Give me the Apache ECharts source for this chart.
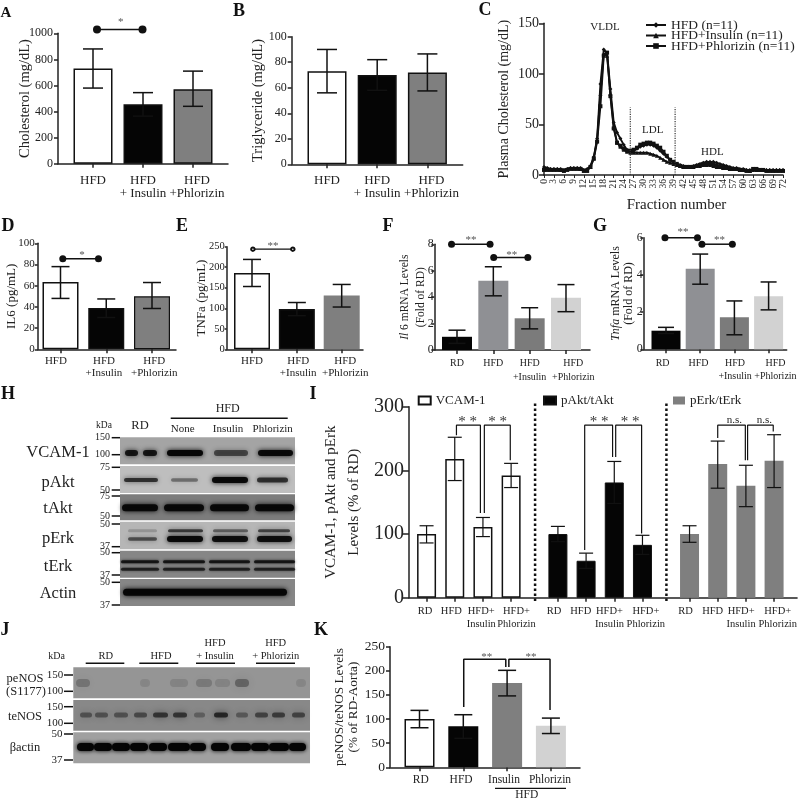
<!DOCTYPE html>
<html><head><meta charset="utf-8">
<style>html,body{margin:0;padding:0;background:#fff}#main{width:800px;height:802px;filter:blur(0.45px)}</style>
<script src="https://cdn.jsdelivr.net/npm/echarts@6/dist/echarts.min.js"></script>
</head><body><div id="main"></div>
<script>
// ---------- DATA ----------
const groups3 = ['HFD', 'HFD\n+ Insulin', 'HFD\n+Phlorizin'];
const groups3b = ['HFD', 'HFD\n+Insulin', 'HFD\n+Phlorizin'];
const groups4 = ['RD', 'HFD', 'HFD\n+Insulin', 'HFD\n+Phlorizin'];
const kGroups = ['RD', 'HFD', 'Insulin', 'Phlorizin'];
const iLabels = ['RD', 'HFD', 'HFD+\nInsulin', 'HFD+\nPhlorizin'];

const aMean = [730, 455, 570], aHigh = [880, 545, 710], aLow = [580, 365, 440];
const bMean = [73, 70, 72], bHigh = [90, 82, 86.5], bLow = [56, 58, 57.5];
const dMean = [63.5, 39, 50], dHigh = [78, 47.5, 63], dLow = [48, 30, 38.5];
const eMean = [186, 98, 131], eHigh = [219, 114, 158], eLow = [153, 82, 103];
const fMean = [1.0, 5.25, 2.4, 3.95], fHigh = [1.5, 6.3, 3.2, 4.95], fLow = [0.5, 4.1, 1.6, 2.9];
const gMean = [1.0, 4.33, 1.72, 2.85], gHigh = [1.18, 5.12, 2.6, 3.62], gLow = [0.85, 3.5, 0.78, 2.12];
const kMean = [100, 85, 175, 86], kHigh = [118, 109, 201, 102], kLow = [82, 60, 148, 70];

const iVcamMean = [100, 218, 111, 192], iVcamHigh = [113, 252, 126, 211], iVcamLow = [86, 184, 96, 173];
const iAktMean = [100, 58, 181, 83], iAktHigh = [112, 70, 214, 98], iAktLow = [88, 46, 148, 68];
const iErkMean = [100, 210, 176, 215], iErkHigh = [113, 246, 208, 256], iErkLow = [87, 172, 143, 173];

const fractions = [0,1,2,3,4,5,6,7,8,9,10,11,12,13,14,15,16,17,18,19,20,21,22,23,24,25,26,27,28,29,30,31,32,33,34,35,36,37,38,39,40,41,42,43,44,45,46,47,48,49,50,51,52,53,54,55,56,57,58,59,60,61,62,63,64,65,66,67,68,69,70,71,72];
const cHfd = [8,7,6,6,6,6,5,6,7,7,7,7,5,6,9,18,36,90,124,121,85,52,42,36,30,25,23,24,26,28,29,30,30,29,27,24,21,18,15,13,11,10,9,8,8,9,10,11,12,13,13,13,12,11,10,9,8,7,7,6,6,5,5,5,5,5,5,5,5,5,5,5,5];
const cInsulin = [6,6,6,6,6,5,5,6,7,7,7,6,5,5,8,17,35,80,120,118,80,48,32,28,25,23,22,22,22,22,22,22,21,20,19,17,15,13,12,11,10,9,8,8,8,8,9,9,10,10,10,9,8,8,7,7,6,6,6,5,5,5,4,5,5,5,5,5,5,5,5,5,5];
const cPhlorizin = [5,5,5,5,5,5,4,5,6,6,6,6,4,4,8,16,33,68,118,121,78,46,32,29,26,24,24,25,27,30,31,32,32,31,29,27,23,19,15,13,11,9,8,8,8,8,9,10,11,11,11,10,9,8,7,7,6,6,6,5,5,4,4,6,6,5,5,4,4,4,4,4,4];

// ---------- STYLE / LAYOUT ----------
const SERIF = '"Liberation Serif","Times New Roman",serif';
const INK = '#222';
const option = {backgroundColor:'#fff', animation:false, grid:[], xAxis:[], yAxis:[], series:[], legend:[], graphic:[]};
const gfx = [];

function errorSeries(ax, xs, lows, highs, capW, lw){
  option.series.push({type:'custom', xAxisIndex:ax, yAxisIndex:ax, silent:true, clip:false, z:4,
    data: xs.map((x,i)=>[x,lows[i],highs[i]]), encode:{x:0,y:[1,2]},
    renderItem:(p,api)=>{
      const t=api.coord([api.value(0),api.value(2)]), b=api.coord([api.value(0),api.value(1)]);
      const st={stroke:'#111',lineWidth:lw,fill:null};
      return {type:'group',children:[
        {type:'line',shape:{x1:t[0],y1:t[1],x2:b[0],y2:b[1]},style:st},
        {type:'line',shape:{x1:t[0]-capW/2,y1:t[1],x2:t[0]+capW/2,y2:t[1]},style:st},
        {type:'line',shape:{x1:b[0]-capW/2,y1:b[1],x2:b[0]+capW/2,y2:b[1]},style:st}
      ]};
    }});
}
function link(ax, xs, ys, o){
  o=o||{};
  option.series.push({type:'line', xAxisIndex:ax, yAxisIndex:ax, silent:true, clip:false, z:5,
    data: xs.map((x,i)=>[x,ys[i]]), symbol:o.symbol||'none', symbolSize:o.size||8, showSymbol:!!o.symbol,
    lineStyle:{color:o.color||'#111',width:o.width||1.5,type:o.type||'solid'}, itemStyle:{color:o.color||'#111'}});
}
function addAxes(c){
  const ax=option.grid.length;
  option.grid.push({left:c.left,top:c.top,width:c.right-c.left,height:c.bottom-c.top,containLabel:false});
  const tick=c.tickPos;
  option.xAxis.push({gridIndex:ax,type:'value',min:(c.left-c.c0)/c.step,max:(c.right-c.c0)/c.step,splitLine:{show:false},
    axisLine:{onZero:false,lineStyle:{color:INK,width:1.5}},
    axisTick:{show:true,customValues:tick,length:c.tickLen||4,lineStyle:{color:INK,width:1.5}},
    axisLabel:{customValues:c.labelPos,formatter:v=>c.labels[c.labelPos.indexOf(v)],
      fontFamily:SERIF,fontSize:c.xSize||13,lineHeight:c.xLine||13,color:INK,margin:c.xMargin||10,hideOverlap:false}});
  option.yAxis.push({gridIndex:ax,type:'value',min:0,max:c.yMax,interval:c.yInt,splitLine:{show:false},
    axisLine:{show:true,onZero:false,lineStyle:{color:INK,width:1.5}},
    axisTick:{show:true,length:c.yTick||4,lineStyle:{color:INK,width:1.5}},
    axisLabel:{fontFamily:SERIF,fontSize:c.ySize||12,color:INK,margin:c.yMargin==null?5:c.yMargin,showMaxLabel:true,showMinLabel:true,formatter:v=>String(v)},
    name:c.yName,nameLocation:'middle',nameGap:c.nameGap,nameMoveOverlap:false,
    nameTextStyle:Object.assign({fontFamily:SERIF,fontSize:c.nameSize||14,color:INK,lineHeight:c.nameLine||15,
      rich:{i:{fontFamily:SERIF,fontStyle:'italic',fontSize:c.nameSize||12,color:INK,lineHeight:c.nameLine||15},
            n:{fontFamily:SERIF,fontSize:c.nameSize||12,color:INK,lineHeight:c.nameLine||15}}},c.nameExtra||{})});
  return ax;
}
function barPanel(c){
  const ax=addAxes(c);
  const xs=c.mean.map((_,i)=>i);
  option.series.push({type:'bar',xAxisIndex:ax,yAxisIndex:ax,silent:true,barWidth:c.barW,z:2,
    data:c.mean.map((v,i)=>({value:[i,v],itemStyle:{color:c.colors[i],borderColor:'#111',borderWidth:c.border[i]}}))});
  errorSeries(ax,xs,c.low,c.high,c.capW,1.5);
  return ax;
}

// ---------- PANELS ----------
const axA=barPanel({left:58,right:228,top:33.3,bottom:163.7,c0:93,step:50,yMax:1000,yInt:200,mean:aMean,high:aHigh,low:aLow,
  colors:['#fff','#050505','#7f7f7f'],border:[1.5,1.5,1.5],barW:39,capW:20,tickPos:[0,1,2],labelPos:[0,1,2.08],labels:groups3,
  yName:'Cholesterol (mg/dL)',nameGap:25,nameSize:14.5});
link(axA,[0.08,0.99],[1030,1030],{symbol:'circle',size:8});

barPanel({left:291.7,right:462.7,top:36.7,bottom:164.3,c0:327,step:50.2,yMax:100,yInt:20,mean:bMean,high:bHigh,low:bLow,
  colors:['#fff','#050505','#7f7f7f'],border:[1.5,1.5,1.5],barW:39,capW:20,tickPos:[0,1,2],labelPos:[0,1,2.08],labels:groups3,
  yName:'Triglyceride (mg/dL)',nameGap:26,nameSize:14.5});

// Panel C
const axC=option.grid.length;
option.grid.push({left:544,top:23.3,width:239,height:151.7});
option.xAxis.push({gridIndex:axC,type:'value',min:0,max:72,interval:3,splitLine:{show:false},
  axisLine:{onZero:false,lineStyle:{color:INK,width:1.5}},axisTick:{length:3,lineStyle:{color:INK,width:1}},
  axisLabel:{rotate:90,fontFamily:SERIF,fontSize:9.5,color:INK,margin:4,showMaxLabel:true,showMinLabel:true},
  name:'Fraction number',nameLocation:'middle',nameGap:23,
  nameTextStyle:{fontFamily:SERIF,fontSize:15,color:INK,padding:[0,0,0,26]}});
option.yAxis.push({gridIndex:axC,type:'value',min:0,max:150,interval:50,splitLine:{show:false},
  axisLine:{show:true,onZero:false,lineStyle:{color:INK,width:1.5}},axisTick:{show:true,length:5,lineStyle:{color:INK,width:1.5}},
  axisLabel:{fontFamily:SERIF,fontSize:14,color:INK,margin:5,showMaxLabel:true},
  name:'Plasma Cholesterol (mg/dL)',nameLocation:'middle',nameGap:33,nameMoveOverlap:false,
  nameTextStyle:{fontFamily:SERIF,fontSize:14,color:INK}});
[['HFD (n=11)',cHfd,'diamond',4],['HFD+Insulin (n=11)',cInsulin,'triangle',4],['HFD+Phlorizin (n=11)',cPhlorizin,'rect',4]].forEach(s=>{
  option.series.push({name:s[0],type:'line',xAxisIndex:axC,yAxisIndex:axC,silent:true,z:3,showAllSymbol:true,
    data:fractions.map((f,i)=>[f,s[1][i]]),symbol:s[2],symbolSize:s[3],
    lineStyle:{color:'#111',width:1.9},itemStyle:{color:'#111'}});
});
link(axC,[26,26],[0,67],{type:'dotted',width:1.2,color:'#333'});
link(axC,[39.5,39.5],[0,67],{type:'dotted',width:1.2,color:'#333'});
option.legend.push({orient:'vertical',left:645,top:18,padding:0,itemWidth:20,itemHeight:7,itemGap:-3.5,
  data:['HFD (n=11)','HFD+Insulin (n=11)','HFD+Phlorizin (n=11)'],selectedMode:false,
  textStyle:{fontFamily:SERIF,fontSize:13.5,color:INK}});

const axD=barPanel({left:37.7,right:176,top:243.3,bottom:349.3,c0:60.5,step:45.75,yMax:100,yInt:20,mean:dMean,high:dHigh,low:dLow,
  colors:['#fff','#050505','#7f7f7f'],border:[1.5,1.5,1.2],barW:36,capW:18,tickPos:[0,1,2],labelPos:[-0.1,0.95,2.05],labels:groups3b,
  xSize:11,xLine:12,ySize:11,yTick:3,yMargin:3,xMargin:6,yName:'IL6 (pg/mL)',nameGap:19,nameSize:13});
link(axD,[0.05,0.83],[85.5,85.5],{symbol:'circle',size:7});

const axE=barPanel({left:226.7,right:363,top:246.7,bottom:349.3,c0:252,step:44.85,yMax:250,yInt:50,mean:eMean,high:eHigh,low:eLow,
  colors:['#fff','#050505','#7f7f7f'],border:[1.5,1.5,0],barW:36,capW:18,tickPos:[0,1,2],labelPos:[0,1.03,2.08],labels:groups3b,
  xSize:11,xLine:12,ySize:10.5,yTick:2,yMargin:2,xMargin:6,yName:'TNFa (pg/mL)',nameGap:18,nameSize:13});
link(axE,[0.02,0.91],[244,244],{symbol:'emptyCircle',size:3.5,width:1.3});

const axF=barPanel({left:434.3,right:590,top:244.3,bottom:350,c0:457,step:36.33,yMax:8,yInt:2,mean:fMean,high:fHigh,low:fLow,
  colors:['#050505','#8f9094','#7b7b7b','#d2d2d2'],border:[0,0,0,0],barW:30,capW:17,tickPos:[0,1,2,3],labelPos:[0,1,2,3.2],labels:groups4,
  xSize:10,xLine:13.5,ySize:12,yTick:3,yMargin:0.5,xMargin:7,yName:'{i|Il}{n| 6 mRNA Levels}\n{n|(Fold of RD)}',nameGap:6,nameSize:11.5,nameLine:15.5});
link(axF,[-0.15,0.91],[8,8],{symbol:'circle',size:7});
link(axF,[1.01,1.95],[7,7],{symbol:'circle',size:7});

const axG=barPanel({left:643.3,right:786.7,top:237.7,bottom:349.3,c0:666,step:34.2,yMax:6,yInt:2,mean:gMean,high:gHigh,low:gLow,
  colors:['#050505','#8f9094','#7b7b7b','#d2d2d2'],border:[0,0,0,0],barW:29,capW:16,tickPos:[0,1,2,3],labelPos:[-0.1,0.95,2.02,3.2],labels:groups4,
  xSize:10,xLine:13.5,ySize:12,yTick:3,yMargin:0.5,xMargin:7,yName:'{i|Tnfa}{n| mRNA Levels}\n{n|(Fold of RD)}',nameGap:8,nameSize:12,nameLine:13});
link(axG,[-0.03,0.92],[6,6],{symbol:'circle',size:7});
link(axG,[1.05,1.94],[5.65,5.65],{symbol:'circle',size:7});

// Panel I
const iBase=[0,4.66,9.33];
const iTicks=[];iBase.forEach(b=>[0,1,2,3].forEach(k=>iTicks.push(+(b+k).toFixed(2))));
const iLabelOffsets=[[-0.05,0.88,1.94,3.19],[-0.14,0.81,1.83,3.12],[-0.14,0.82,1.83,3.13]];
const iLabelPos=[];const iLabelText=[];
iBase.forEach((b,g)=>iLabelOffsets[g].forEach((o,k)=>{iLabelPos.push(+(b+o).toFixed(2));iLabelText.push(iLabels[k]);}));
const axI=addAxes({left:409,right:800,top:406.7,bottom:597.7,c0:426.7,step:28.4,yMax:300,yInt:100,tickPos:iTicks,labelPos:iLabelPos,labels:iLabelText,
  xSize:10.5,xLine:12.7,xMargin:7,ySize:20,yTick:6,yMargin:5,yName:'VCAM-1, pAkt and pErk\nLevels (% of RD)',nameGap:43,nameSize:15,nameLine:23});
[['VCAM-1',iVcamMean,iVcamHigh,iVcamLow,'#fff',1.5,0],['pAkt/tAkt',iAktMean,iAktHigh,iAktLow,'#050505',1,1],['pErk/tErk',iErkMean,iErkHigh,iErkLow,'#7f7f7f',0,2]].forEach(s=>{
  const xs=[0,1,2,3].map(k=>+(iBase[s[6]]+k).toFixed(2));
  option.series.push({name:s[0],type:'bar',xAxisIndex:axI,yAxisIndex:axI,silent:true,barWidth:19,barGap:'-100%',z:2,
    data:s[1].map((v,i)=>[xs[i],v]),itemStyle:{color:s[4],borderColor:'#111',borderWidth:s[5]}});
  errorSeries(axI,xs,s[3],s[2],14,1.2);
});
link(axI,[3.85,3.85],[-5,305],{type:'dotted',width:2.5});
link(axI,[8.51,8.51],[-5,305],{type:'dotted',width:2.5});
[[1.06,1.06,1.91,1.91,255,133],[2.05,2.05,2.97,2.97,133,216],[5.61,5.61,6.6,6.6,75,221],[6.71,6.71,7.63,7.63,221,101],[10.33,10.33,11.31,11.31,251,216],[11.39,11.39,12.3,12.3,216,261]].forEach(b=>{
  link(axI,[b[0],b[1],b[2],b[3]],[b[4],271,271,b[5]],{width:1.2});
});
[['VCAM-1',417.7],['pAkt/tAkt',543],['pErk/tErk',673]].forEach(l=>{
  option.legend.push({left:l[1],top:394,padding:0,data:[l[0]],icon:'rect',itemWidth:12,itemHeight:8,selectedMode:false,
    textStyle:{fontFamily:SERIF,fontSize:13,color:INK}});
});

// Panel K
const axK=barPanel({left:390,right:580,top:646.7,bottom:767.3,c0:419.5,step:43.8,yMax:250,yInt:50,mean:kMean,high:kHigh,low:kLow,
  colors:['#fff','#050505','#7f7f7f','#d2d2d2'],border:[1.5,0,0,0],barW:30,capW:18,tickPos:[0,1,2,3],labelPos:[0.03,0.95,1.93,2.98],labels:kGroups,
  xSize:11.5,xLine:12,ySize:13.5,xMargin:7,yName:'peNOS/teNOS Levels\n(% of RD-Aorta)',nameGap:29,nameSize:13.3,nameLine:14});
link(axK,[1.01,1.01,1.97,1.97],[125,224,224,208],{width:1.5});
link(axK,[2.04,2.04,2.98,2.98],[208,224,224,119],{width:1.5});

// ---------- TEXT AND WESTERN BLOTS (annotation layer) ----------
function txt(s,x,y,size,o){o=o||{};gfx.push({type:'text',silent:true,z:20,style:{text:s,x:x,y:y,fill:o.fill||INK,align:o.align||'center',verticalAlign:'middle',
  font:(o.weight?o.weight+' ':'')+size+'px '+SERIF}});}
function rect(x,y,w,h,fill){gfx.push({type:'rect',silent:true,z:10,shape:{x:x,y:y,width:w,height:h},style:{fill:fill}});}
function band(x1,x2,y,h,alpha,blur){gfx.push({type:'rect',silent:true,z:11,shape:{x:x1,y:y-h/2,width:x2-x1,height:h,r:h/2},
  style:{fill:'rgba(5,5,5,'+alpha+')',shadowBlur:blur==null?5:blur,shadowColor:'rgba(5,5,5,'+alpha+')'}});}
function hline(x1,x2,y,w){gfx.push({type:'line',silent:true,z:12,shape:{x1:x1,y1:y,x2:x2,y2:y},style:{stroke:'#111',lineWidth:w||1.5}});}

[['A',6,13,15],['B',239,11,18],['C',485,10,18],['D',8,226,18],['E',182,226,18],['F',388,226,18],['G',600,226,18],['H',8,394,18],['I',313,394,18],['J',5,630,18],['K',321,630,18]]
  .forEach(l=>txt(l[0],l[1],l[2],l[3],{weight:'bold',fill:'#111'}));
[['*',120.7,22],['*',82,255],['**',273,246],['**',471,240],['**',511.7,255],['**',683,232],['**',719.5,240],['**',486.7,657],['**',531,657]]
  .forEach(s=>txt(s[0],s[1],s[2],11,{fill:'#555'}));
[['* *',467.7,422],['* *',497.7,422],['* *',599,422],['* *',630,422]].forEach(s=>txt(s[0],s[1],s[2],15,{fill:'#333'}));
[['n.s.',734.3,420],['n.s.',764.3,420]].forEach(s=>txt(s[0],s[1],s[2],11));
[['VLDL',605,27.5],['LDL',652.7,130],['HDL',712.3,151.7]].forEach(s=>txt(s[0],s[1],s[2],11));

// K underline
hline(495,566,788.3,1.2); txt('HFD',526.7,795,11.5);

// Panel H blot
[[437.3,27,'#a4a4a4'],[466,27,'#bebebe'],[494.3,26,'#7c7c7c'],[521.7,27.5,'#b6b6b6'],[550.7,27,'#868686'],[579,27,'#868686']].forEach(r=>rect(120,r[0],175,r[1],r[2]));
const hLanes=[[125,157],[167,203],[213,248],[258,293]];
[[125,138,.85],[143,157,.85],[167,203,.98],[214,248,.55],[258,293,.95]].forEach(b=>band(b[0],b[1],453,6,b[2]));
[[124,158,.7,4],[171,198,.4,3.5],[212,248,.95,6],[257,288,.7,5]].forEach(b=>band(b[0],b[1],480,b[3],b[2]));
hLanes.forEach(l=>band(l[0]-3,l[1]+1,507.7,7,.95));
[[128,157,.18],[168,203,.65],[213,248,.45],[258,290,.6]].forEach(b=>band(b[0],b[1],530.7,3,b[2]));
[[128,157,.55,3.5],[167,203,.95,6],[212,248,.9,6],[257,292,.9,6]].forEach(b=>band(b[0],b[1],539,b[3],b[2]));
[561.7,569.3].forEach((y,k)=>hLanes.forEach(l=>band(l[0]-4,l[1]+2,y,3,k?.7:.8,3)));
band(123,287,592.3,7,.98);

// H labels
[['VCAM-1',452.7],['pAkt',483],['tAkt',509],['pErk',539],['tErk',566.7],['Actin',594]].forEach(r=>txt(r[0],58,r[1],16.5));
txt('kDa',104,425.7,9.5);
[['150',437.7],['100',454.7],['75',467.3],['50',490],['75',496],['50',516],['50',524],['37',546.7],['50',552.7],['37',575],['50',582.3],['37',605]].forEach(m=>{
  txt(m[0],m[0].length>2?102.5:105,m[1],10); hline(111.7,120,m[1],1.5);
});
txt('RD',140,425.7,12.5); txt('HFD',227.7,409,12); hline(170.7,287.7,418.3,1.5);
txt('None',182.7,428.7,11); txt('Insulin',228,428.7,11); txt('Phlorizin',272.7,428.7,11);

// Panel J blot
[[667.3,31,'#959595'],[700,30.7,'#888888'],[732.3,31,'#a0a0a0']].forEach(r=>rect(73.3,r[0],236.7,r[1],r[2]));
[[76,90,.22],[196,212,.18],[235,249,.32],[140,150,.1],[170,188,.12],[215,230,.12],[296,306,.1]].forEach(b=>band(b[0],b[1],683,8,b[2],10));
[[80,92,.4],[95,108,.4],[114,128,.4],[134,147,.45],[153,168,.6],[173,187,.6],[194,205,.3],[214,228,.7],[236,248,.35],[255,268,.5],[272,285,.55],[292,305,.5]].forEach(b=>band(b[0],b[1],715,5,b[2],7));
[[77,94],[94,112],[112,130],[130,148],[149,167],[168,190],[190,206],[211,229],[231,251],[251,269],[269,289],[289,306]].forEach(b=>band(b[0],b[1],747,8,1,4));

[[85.7,124.3],[139.3,178.3],[196,235],[256,295]].forEach(b=>hline(b[0],b[1],663.3,1.5));
txt('kDa',56.7,656,10);
txt('RD',105.7,656,10.5); txt('HFD',161,656,10.5);
txt('HFD',215,643,10.5); txt('+ Insulin',215,656,10.5);
txt('HFD',275.7,643,10.5); txt('+ Phlorizin',275.7,656,10.5);
txt('peNOS',25,679,12.5); txt('(S1177)',26,691.7,12.5); txt('teNOS',25,716.7,12.5); txt('βactin',25,748,12.5);
[['150',675],['100',691.3],['150',706.7],['100',723.3],['50',734],['37',760]].forEach(m=>{
  txt(m[0],m[0].length>2?55:57,m[1],11); hline(64,73,m[1],1.5);
});

option.graphic=[{elements:gfx}];
const chart=echarts.init(document.getElementById('main'),null,{renderer:'canvas',width:800,height:802});
chart.setOption(option);
</script></body></html>
